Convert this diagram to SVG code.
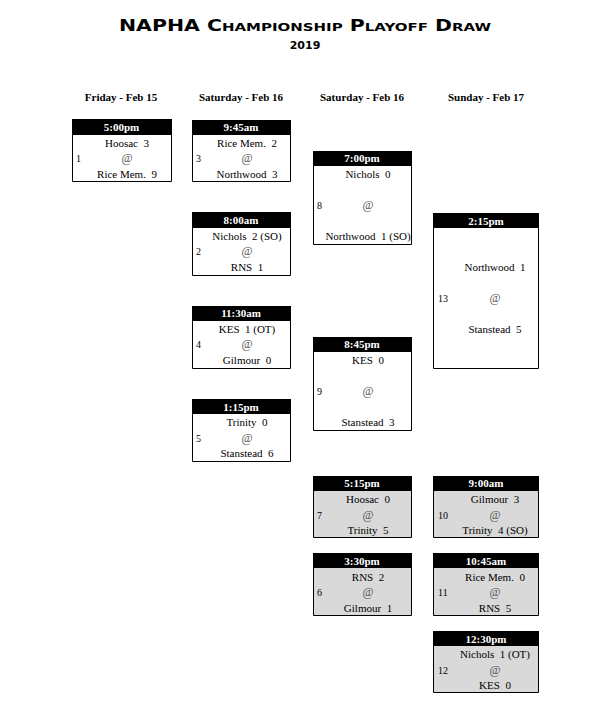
<svg xmlns="http://www.w3.org/2000/svg" width="610" height="706" viewBox="0 0 610 706">
<style>
.bg{fill:#ffffff}
.title{font-family:"DejaVu Sans","Liberation Sans",sans-serif;font-weight:bold;font-variant:small-caps;font-size:15px;fill:#000;text-anchor:middle}
.year{font-family:"DejaVu Sans","Liberation Sans",sans-serif;font-weight:bold;font-size:11px;fill:#000;text-anchor:middle}
.day{font-family:"Liberation Serif","DejaVu Serif",serif;font-weight:bold;font-size:11px;fill:#000;text-anchor:middle}
.hdr{fill:#000}
.htxt{font-family:"Liberation Serif","DejaVu Serif",serif;font-weight:bold;font-size:11px;fill:#fff;text-anchor:middle}
.team{font-family:"Liberation Serif","DejaVu Serif",serif;font-size:11px;fill:#000;text-anchor:middle;white-space:pre}
.at{font-family:"Liberation Serif","DejaVu Serif",serif;font-size:12px;fill:#555;text-anchor:middle}
.num{font-family:"Liberation Serif","DejaVu Serif",serif;font-size:10px;fill:#000}
.edge{fill:none;stroke:#000;stroke-width:1}
.grey{fill:#d9d9d9}
</style>
<rect class="bg" x="0" y="0" width="610" height="706"/>
<text class="title" x="305" y="31" textLength="372" lengthAdjust="spacingAndGlyphs">NAPHA Championship Playoff Draw</text>
<text class="year" x="305" y="49">2019</text>
<text class="day" x="121" y="101">Friday - Feb 15</text>
<text class="day" x="241" y="101">Saturday - Feb 16</text>
<text class="day" x="362" y="101">Saturday - Feb 16</text>
<text class="day" x="486" y="101">Sunday - Feb 17</text>

<g id="game1">
<rect class="hdr" x="72" y="119" width="99" height="16"/>
<path class="edge" d="M72.5,119V181.5H171.5V119"/>
<text class="htxt" x="121.5" y="131">5:00pm</text>
<text class="team" x="127" y="147">Hoosac  3</text>
<text class="at" x="127" y="162">@</text>
<text class="team" x="127" y="178">Rice Mem.  9</text>
<text class="num" x="76" y="162">1</text>
</g>

<g id="game3">
<rect class="hdr" x="192" y="120" width="99" height="15"/>
<path class="edge" d="M192.5,120V181.5H290.5V120"/>
<text class="htxt" x="241" y="131">9:45am</text>
<text class="team" x="247" y="147">Rice Mem.  2</text>
<text class="at" x="247" y="162">@</text>
<text class="team" x="247" y="178">Northwood  3</text>
<text class="num" x="196" y="162">3</text>
</g>

<g id="game2">
<rect class="hdr" x="192" y="212" width="99" height="16"/>
<path class="edge" d="M192.5,212V275.5H290.5V212"/>
<text class="htxt" x="241" y="224">8:00am</text>
<text class="team" x="247" y="240">Nichols  2 (SO)</text>
<text class="at" x="247" y="255">@</text>
<text class="team" x="247" y="271">RNS  1</text>
<text class="num" x="196" y="255">2</text>
</g>

<g id="game4">
<rect class="hdr" x="192" y="306" width="99" height="15"/>
<path class="edge" d="M192.5,306V368.5H290.5V306"/>
<text class="htxt" x="241" y="317">11:30am</text>
<text class="team" x="247" y="333">KES  1 (OT)</text>
<text class="at" x="247" y="348">@</text>
<text class="team" x="247" y="364">Gilmour  0</text>
<text class="num" x="196" y="348">4</text>
</g>

<g id="game5">
<rect class="hdr" x="192" y="399" width="99" height="15"/>
<path class="edge" d="M192.5,399V461.5H290.5V399"/>
<text class="htxt" x="241" y="411">1:15pm</text>
<text class="team" x="247" y="426">Trinity  0</text>
<text class="at" x="247" y="442">@</text>
<text class="team" x="247" y="457">Stanstead  6</text>
<text class="num" x="196" y="442">5</text>
</g>

<g id="game8">
<rect class="hdr" x="313" y="151" width="99" height="15"/>
<path class="edge" d="M313.5,151V244.5H411.5V151"/>
<text class="htxt" x="362" y="162">7:00pm</text>
<text class="team" x="368" y="178">Nichols  0</text>
<text class="at" x="368" y="209">@</text>
<text class="team" x="368" y="240">Northwood  1 (SO)</text>
<text class="num" x="317" y="209">8</text>
</g>

<g id="game9">
<rect class="hdr" x="313" y="337" width="99" height="15"/>
<path class="edge" d="M313.5,337V430.5H411.5V337"/>
<text class="htxt" x="362" y="348">8:45pm</text>
<text class="team" x="368" y="364">KES  0</text>
<text class="at" x="368" y="395">@</text>
<text class="team" x="368" y="426">Stanstead  3</text>
<text class="num" x="317" y="395">9</text>
</g>

<g id="game7">
<rect class="grey" x="313" y="491" width="99" height="46"/>
<rect class="hdr" x="313" y="476" width="99" height="15"/>
<path class="edge" d="M313.5,476V537.5H411.5V476"/>
<text class="htxt" x="362" y="487">5:15pm</text>
<text class="team" x="368" y="503">Hoosac  0</text>
<text class="at" x="368" y="519">@</text>
<text class="team" x="368" y="534">Trinity  5</text>
<text class="num" x="317" y="519">7</text>
</g>

<g id="game6">
<rect class="grey" x="313" y="568" width="99" height="47"/>
<rect class="hdr" x="313" y="553" width="99" height="15"/>
<path class="edge" d="M313.5,553V615.5H411.5V553"/>
<text class="htxt" x="362" y="565">3:30pm</text>
<text class="team" x="368" y="581">RNS  2</text>
<text class="at" x="368" y="596">@</text>
<text class="team" x="368" y="612">Gilmour  1</text>
<text class="num" x="317" y="596">6</text>
</g>

<g id="game13">
<rect class="hdr" x="433" y="213" width="106" height="15"/>
<path class="edge" d="M433.5,213V368.5H538.5V213"/>
<text class="htxt" x="486" y="225">2:15pm</text>
<text class="team" x="495" y="271">Northwood  1</text>
<text class="at" x="495" y="302">@</text>
<text class="team" x="495" y="333">Stanstead  5</text>
<text class="num" x="438" y="302">13</text>
</g>

<g id="game10">
<rect class="grey" x="433" y="491" width="106" height="46"/>
<rect class="hdr" x="433" y="476" width="106" height="15"/>
<path class="edge" d="M433.5,476V537.5H538.5V476"/>
<text class="htxt" x="486" y="487">9:00am</text>
<text class="team" x="495" y="503">Gilmour  3</text>
<text class="at" x="495" y="519">@</text>
<text class="team" x="495" y="534">Trinity  4 (SO)</text>
<text class="num" x="438" y="519">10</text>
</g>

<g id="game11">
<rect class="grey" x="433" y="568" width="106" height="47"/>
<rect class="hdr" x="433" y="553" width="106" height="15"/>
<path class="edge" d="M433.5,553V615.5H538.5V553"/>
<text class="htxt" x="486" y="565">10:45am</text>
<text class="team" x="495" y="581">Rice Mem.  0</text>
<text class="at" x="495" y="596">@</text>
<text class="team" x="495" y="612">RNS  5</text>
<text class="num" x="438" y="596">11</text>
</g>

<g id="game12">
<rect class="grey" x="433" y="646" width="106" height="46"/>
<rect class="hdr" x="433" y="631" width="106" height="15"/>
<path class="edge" d="M433.5,631V692.5H538.5V631"/>
<text class="htxt" x="486" y="643">12:30pm</text>
<text class="team" x="495" y="658">Nichols  1 (OT)</text>
<text class="at" x="495" y="674">@</text>
<text class="team" x="495" y="689">KES  0</text>
<text class="num" x="438" y="674">12</text>
</g>

<g id="connectors"></g>
</svg>
